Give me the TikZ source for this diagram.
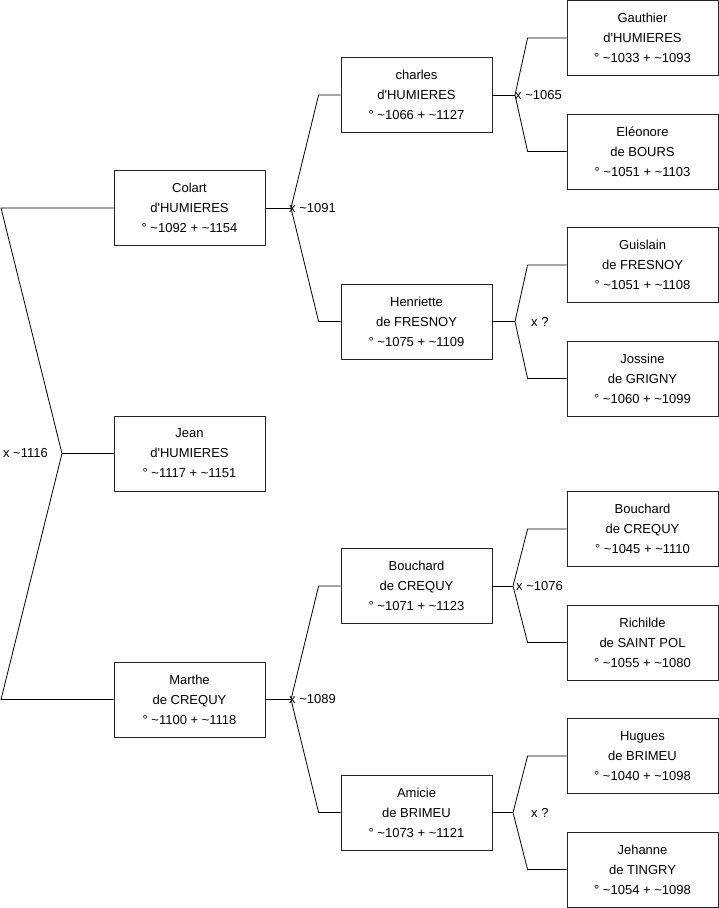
\documentclass[tikz,border=0pt]{standalone}
\usepackage{fontspec}
\setmainfont{Liberation Sans}
\newcommand{\vers}{\textasciitilde}
\newcommand{\apo}{\textquotesingle}

\begin{document}
\begin{tikzpicture}[x=1pt, y=-1pt]
    % --- Styles ---
    \tikzset{
        person/.style={draw=black!85, line width=0.8pt, fill=white, minimum width=151pt,
            minimum height=75pt, inner sep=0pt, align=center, font=\fontsize{13}{20}\selectfont},
        link/.style={black, line width=0.8pt},
        union/.style={inner sep=0pt, font=\fontsize{13}{16}\selectfont}
    }
    \useasboundingbox (0,0) rectangle (719,908);

    % =====================================================================
    % GENERATION 1
    % =====================================================================
    \node[person] (colart) at (189.5,208)   {Colart\\d\apo HUMIERES\\° \vers1092 + \vers1154};
    \node[person] (jean)   at (189.5,453.5) {Jean\\d\apo HUMIERES\\° \vers1117 + \vers1151};
    \node[person] (marthe) at (189.5,699.5) {Marthe\\de CREQUY\\° \vers1100 + \vers1118};

    % =====================================================================
    % GENERATION 2
    % =====================================================================
    \node[person] (charles)   at (416.5,95)    {charles\\d\apo HUMIERES\\° \vers1066 + \vers1127};
    \node[person] (henriette) at (416.5,321.5) {Henriette\\de FRESNOY\\° \vers1075 + \vers1109};
    \node[person] (bouchard)  at (416.5,586)   {Bouchard\\de CREQUY\\° \vers1071 + \vers1123};
    \node[person] (amicie)    at (416.5,812.5) {Amicie\\de BRIMEU\\° \vers1073 + \vers1121};

    % =====================================================================
    % GENERATION 3
    % =====================================================================
    \foreach \name/\y/\txt in {
        gauthier/38/{Gauthier\\d\apo HUMIERES\\° \vers1033 + \vers1093},
        eleonore/151.5/{Eléonore\\de BOURS\\° \vers1051 + \vers1103},
        guislain/265/{Guislain\\de FRESNOY\\° \vers1051 + \vers1108},
        jossine/378.5/{Jossine\\de GRIGNY\\° \vers1060 + \vers1099},
        bouchardPere/529/{Bouchard\\de CREQUY\\° \vers1045 + \vers1110},
        richilde/642.5/{Richilde\\de SAINT POL\\° \vers1055 + \vers1080},
        hugues/756/{Hugues\\de BRIMEU\\° \vers1040 + \vers1098},
        jehanne/869.5/{Jehanne\\de TINGRY\\° \vers1054 + \vers1098}}
        \node[person] (\name) at (642.5,\y) {\txt};

    % --- Points de jonction ---
    \coordinate (xTop) at (1,208);
    \coordinate (xBot) at (1,699.5);
    \coordinate (jjean) at (62,453.5);
    \coordinate (jcolart) at (291,208);
    \coordinate (jmarthe) at (291,699.5);
    \coordinate (jcharles) at (515,95);
    \coordinate (jhenriette) at (515,321.5);
    \coordinate (jbouchard) at (513,586);
    \coordinate (jamicie) at (513,812.5);

    % --- Liens ---
    \draw[link] (colart.west) -- (xTop) -- (jjean) -- (xBot) -- (marthe.west);
    \draw[link] (jjean) -- (jean.west);
    \foreach \p/\a/\b/\d in {colart/charles/henriette/22, marthe/bouchard/amicie/22,
        charles/gauthier/eleonore/39, henriette/guislain/jossine/39,
        bouchard/bouchardPere/richilde/39, amicie/hugues/jehanne/39} {
        \draw[link] (\p.east) -- (j\p);
        \draw[link] (\a.west) -- ++(-\d,0) -- (j\p) -- ([xshift=-\d pt]\b.west) -- (\b.west);
    }

    % --- Mariages ---
    \node[union, anchor=east] (uJean) at ([xshift=-14pt]jjean) {x \vers1116};
    \node[union, anchor=west] (uColart) at ([xshift=-2pt]jcolart) {x \vers1091};
    \node[union, anchor=west] (uMarthe) at ([xshift=-2pt]jmarthe) {x \vers1089};
    \node[union, anchor=west] (uCharles) at ([xshift=0pt]jcharles) {x \vers1065};
    \node[union, anchor=west] (uBouchard) at ([xshift=3pt]jbouchard) {x \vers1076};
    \node[union, anchor=west] (uHenriette) at ([xshift=16pt]jhenriette) {x ?};
    \node[union, anchor=west] (uAmicie) at ([xshift=18pt]jamicie) {x ?};
\end{tikzpicture}
\end{document}
